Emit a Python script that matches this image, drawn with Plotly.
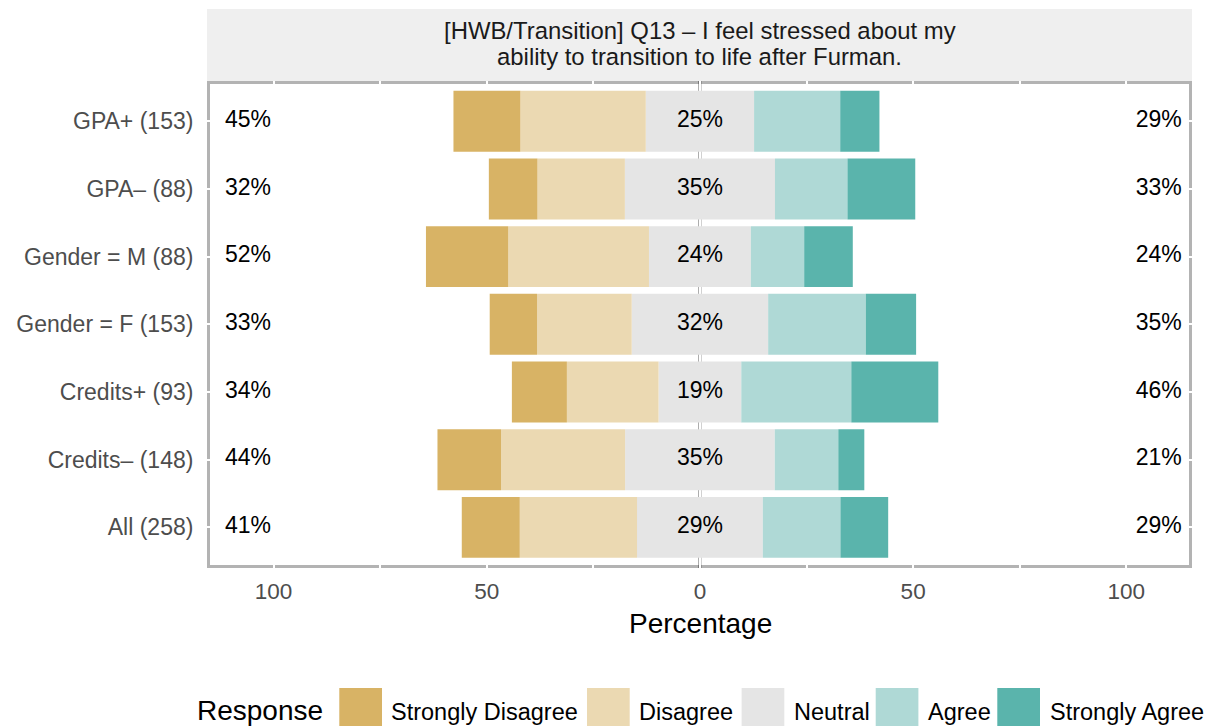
import plotly.graph_objects as go

# ---------------- data ----------------
categories = ["GPA+ (153)", "GPA– (88)", "Gender = M (88)", "Gender = F (153)",
              "Credits+ (93)", "Credits– (148)", "All (258)"]
responses = ["Strongly Disagree", "Disagree", "Neutral", "Agree", "Strongly Agree"]
strongly_disagree = [15.7, 11.4, 19.3, 11.1, 12.9, 14.9, 13.6]
disagree = [29.4, 20.5, 33.0, 22.2, 21.5, 29.1, 27.5]
neutral = [25.4, 35.2, 23.9, 32.0, 19.4, 35.1, 29.5]
agree = [20.2, 17.0, 12.5, 22.9, 25.8, 14.9, 18.2]
strongly_agree = [9.2, 15.9, 11.4, 11.8, 20.4, 6.1, 11.2]
low_labels = [45, 32, 52, 33, 34, 44, 41]
neutral_labels = [25, 35, 24, 32, 19, 35, 29]
high_labels = [29, 33, 24, 35, 46, 21, 29]
x_tick_values = [-100, -75, -50, -25, 0, 25, 50, 75, 100]
x_tick_labels = ["100", "", "50", "", "0", "", "50", "", "100"]
title_lines = ["[HWB/Transition] Q13 – I feel stressed about my",
               "ability to transition to life after Furman."]

colors = {"Strongly Disagree": "#D8B365", "Disagree": "#EBD9B2", "Neutral": "#E5E5E5",
          "Agree": "#AFD9D6", "Strongly Agree": "#5AB4AC"}

FONT = "Liberation Sans, Arial, Helvetica, sans-serif"
W, H = 1215, 726
L, R, T, B = 207, 1192, 81, 568


def xp(px):
    return (px - L) / (R - L)


def yp(py):
    return (B - py) / (B - T)


fig = go.Figure()

bar_w = 0.9
# stacking order: nearest to zero first
stack = [
    ("Neutral", [-v / 2 for v in neutral]),
    ("Neutral", [v / 2 for v in neutral]),
    ("Disagree", [-v for v in disagree]),
    ("Agree", agree),
    ("Strongly Disagree", [-v for v in strongly_disagree]),
    ("Strongly Agree", strongly_agree),
]
for name, vals in stack:
    fig.add_trace(go.Bar(
        x=vals, y=categories, orientation="h", width=bar_w,
        marker=dict(color=colors[name], line=dict(width=0)),
        name=name, showlegend=False, hoverinfo="skip"))

label_font = dict(family=FONT, size=23, color="black")
for xpos, labs in [(-106, low_labels), (0, neutral_labels), (107.6, high_labels)]:
    fig.add_trace(go.Scatter(
        x=[xpos] * len(categories), y=categories, mode="text",
        text=[f"{v}%" for v in labs], textposition="middle center",
        textfont=label_font, showlegend=False, hoverinfo="skip", cliponaxis=False))

shapes = []
# panel border (inset so white gridlines cut through it)
shapes.append(dict(type="rect", xref="paper", yref="paper",
                   x0=xp(208.5), x1=xp(1190.5), y0=yp(566.5), y1=yp(82.5),
                   line=dict(color="#B3B3B3", width=3), fillcolor="rgba(0,0,0,0)",
                   layer="below"))
# strip
shapes.append(dict(type="rect", xref="paper", yref="paper",
                   x0=0, x1=1, y0=1, y1=yp(9),
                   line=dict(width=0), fillcolor="#EFEFEF", layer="above"))
# zero reference line
shapes.append(dict(type="line", xref="x", yref="paper", x0=0, x1=0, y0=0, y1=1,
                   line=dict(color="black", width=2.5), layer="between"))

annotations = []
annotations.append(dict(text=title_lines[0], xref="paper", yref="paper", x=0.5, y=yp(31),
                        xanchor="center", yanchor="middle", showarrow=False,
                        font=dict(family=FONT, size=23.9, color="#1A1A1A")))
annotations.append(dict(text=title_lines[1], xref="paper", yref="paper", x=0.5, y=yp(57),
                        xanchor="center", yanchor="middle", showarrow=False,
                        font=dict(family=FONT, size=23.9, color="#1A1A1A")))
annotations.append(dict(text="Percentage", xref="paper", yref="paper", x=xp(700), y=yp(623),
                        xanchor="center", yanchor="middle", showarrow=False,
                        font=dict(family=FONT, size=28, color="black")))

# manual legend
annotations.append(dict(text="Response", xref="paper", yref="paper", x=xp(195), y=yp(710),
                        xanchor="left", yanchor="middle", showarrow=False,
                        font=dict(family=FONT, size=28, color="black")))
key_left = [339.3, 587.0, 741.6, 875.7, 997.3]
text_left = [389.3, 637.2, 791.8, 925.9, 1048.3]
for r, kl, tl in zip(responses, key_left, text_left):
    shapes.append(dict(type="rect", xref="paper", yref="paper",
                       x0=xp(kl), x1=xp(kl + 42.7), y0=yp(731), y1=yp(688),
                       line=dict(width=0), fillcolor=colors[r]))
    annotations.append(dict(text=r, xref="paper", yref="paper", x=xp(tl), y=yp(712),
                            xanchor="left", yanchor="middle", showarrow=False,
                            font=dict(family=FONT, size=23.5, color="black")))

fig.update_layout(
    width=W, height=H,
    margin=dict(l=L, r=W - R, t=T, b=H - B, pad=0),
    paper_bgcolor="white", plot_bgcolor="white",
    barmode="relative",
    shapes=shapes, annotations=annotations,
    font=dict(family=FONT),
    xaxis=dict(range=[-115.6, 115.4], tickvals=x_tick_values, ticktext=x_tick_labels,
               showgrid=True, gridcolor="white", gridwidth=2, zeroline=False,
               showline=False, ticks="outside", ticklen=3, tickcolor="rgba(0,0,0,0)",
               tickfont=dict(family=FONT, size=22.5, color="#4D4D4D"), fixedrange=True),
    yaxis=dict(categoryorder="array", categoryarray=categories[::-1],
               range=[-0.6, 6.595], showgrid=True, gridcolor="white", gridwidth=2,
               zeroline=False, showline=False, ticks="outside", ticklen=8,
               tickcolor="rgba(0,0,0,0)",
               tickfont=dict(family=FONT, size=23, color="#4D4D4D"), fixedrange=True),
    showlegend=False,
)

fig.write_html("out.html", config={"displayModeBar": False},
               post_script="document.body.style.margin='0px';document.body.style.overflow='hidden';")
